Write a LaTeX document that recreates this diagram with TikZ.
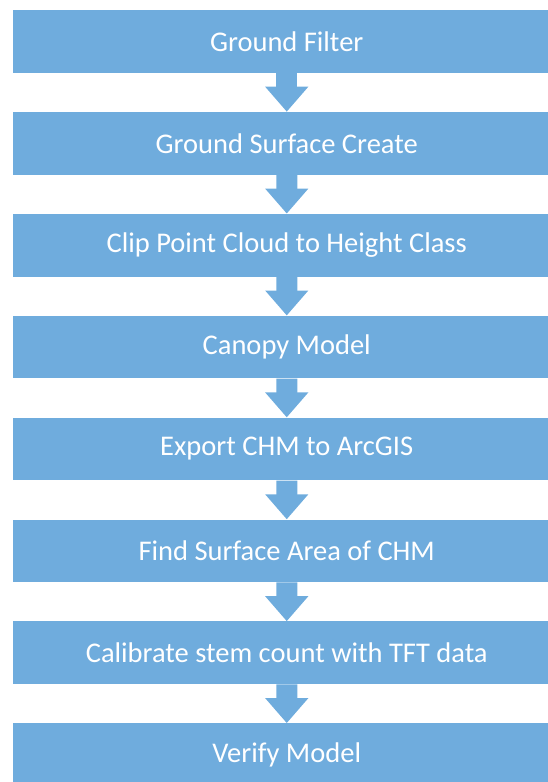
\documentclass[tikz,border=0pt]{standalone}
\usepackage{fontspec}
\setmainfont{Carlito}
\usetikzlibrary{arrows.meta}
\definecolor{stepblue}{RGB}{111,172,221}
\begin{document}
\begin{tikzpicture}[x=1pt,y=1pt,level distance=101.9pt]
  \tikzstyle{every node}=[fill=stepblue,text=white,minimum width=548.5pt,
    minimum height=62.7pt,inner sep=0pt,font=\fontsize{28.5}{34}\selectfont]
  \tikzstyle{edge from parent}=[draw=stepblue,line width=21pt,
    -{Triangle[width=41.6pt,length=25pt]}]
  \tikzstyle{level}=[parent anchor=south,child anchor=north]
  \clip (0,0) rectangle (548,-782);
  \node (s1) at (286.75,-41.35) {Ground Filter}
  child {node (s2) {Ground Surface Create}
    child {node (s3) {Clip Point Cloud to Height Class}
      child {node (s4) {Canopy Model}
        child {node (s5) {Export CHM to ArcGIS}
          child {node (s6) {Find Surface Area of CHM}
            child {node (s7) {Calibrate stem count with TFT data}
              child {node (s8) {Verify Model}}
            }
          }
        }
      }
    }
  };
\end{tikzpicture}
\end{document}
